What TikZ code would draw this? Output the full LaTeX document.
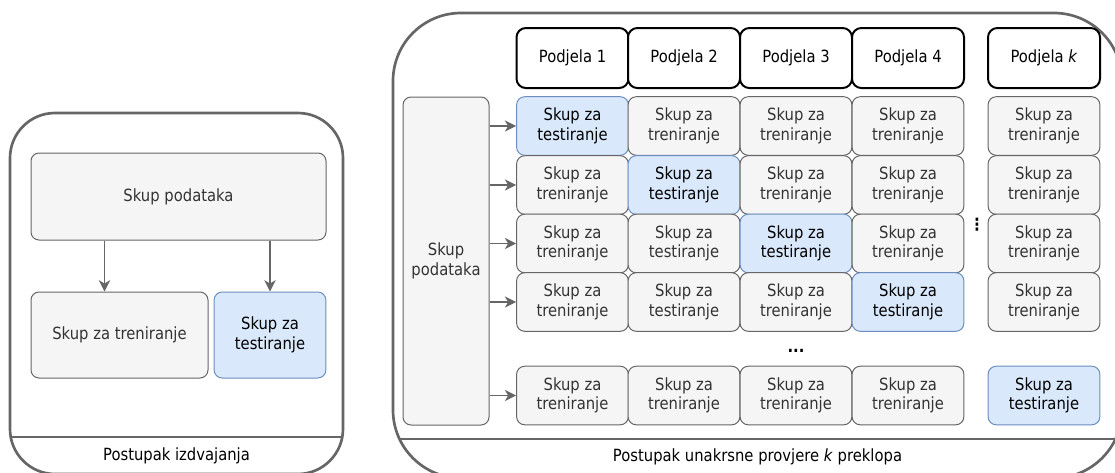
\documentclass[tikz,border=0pt]{standalone}
\usepackage{fontspec}
\setmainfont{DejaVu Sans}[FakeStretch=0.88]
\usepackage{tikz}
\usetikzlibrary{arrows.meta,calc}
\definecolor{boxgray}{HTML}{F5F5F5}
\definecolor{linegray}{HTML}{666666}
\definecolor{txtgray}{HTML}{333333}
\definecolor{bluefill}{HTML}{DAE8FC}
\definecolor{blueline}{HTML}{6C8EBF}

\begin{document}
\begin{tikzpicture}[x=0.75pt,y=-0.75pt,>={Stealth[length=8.5pt,width=8.5pt,inset=2.5pt]},
      font=\fontsize{12.6}{14.5}\selectfont,
      cell/.style={draw=linegray,fill=boxgray,text=txtgray,line width=0.75pt,
        rounded corners=6pt,align=center,inner sep=0pt,
        minimum width=83.8pt,minimum height=43.9pt},
      test/.style={cell,draw=blueline,fill=bluefill,text=black},
      head/.style={draw=black,fill=white,line width=1.5pt,rounded corners=7pt,
        inner sep=0pt,minimum width=84pt,minimum height=45pt},
      panel/.style={draw=linegray,line width=2pt},
      arr/.style={->,draw=linegray,line width=0.9pt}]
      \useasboundingbox (0,0) rectangle (1115,472);
      \clip (0,0) rectangle (1115,472);

      % left panel
      \draw[panel,rounded corners=33.75pt] (10,113) rectangle (343,474);
      \draw[panel] (11,437) -- (342,437);
      \node[text=black] (lname) at (176.5,456) {Postupak izdvajanja};

      \node[cell,minimum width=221.25pt,minimum height=65.25pt] (ldata) at (178.5,196.5) {Skup podataka};
      \node[cell,minimum width=132.75pt,minimum height=64.5pt] (ltrain) at (119.5,335) {Skup za treniranje};
      \node[test,minimum height=64.5pt] (ltest) at (270,335) {Skup za\\testiranje};

      \coordinate (la) at ($(ldata.south west)!0.25!(ldata.south east)$);
      \draw[arr] (la) -- (la |- ltrain.north);
      \draw[arr] (ltest.north |- ldata.south) -- (ltest.north);

      % right panel
      \draw[panel,rounded corners=51pt] (393,13) rectangle (1122,478);
      \draw[panel] (399.5,439) -- (1122,439);
      \node[text=black] (rname) at (757.5,457) {Postupak unakrsne provjere \textit{k} preklopa};

      \node[cell,minimum width=64.5pt,minimum height=246pt] (rdata) at (446,261) {Skup\\podataka};

      \node[head] (h1) at (572.5,58) {Podjela 1};
      \node[head] (h2) at (684,58) {Podjela 2};
      \node[head] (h3) at (796,58) {Podjela 3};
      \node[head] (h4) at (908,58) {Podjela 4};
      \node[head] (hk) at (1044,58) {Podjela \textit{k}};

      % row 1
      \node[test] (c11) at (572.5,126) {Skup za\\testiranje};
      \node[cell] (c12) at (684,126) {Skup za\\treniranje};
      \node[cell] (c13) at (796,126) {Skup za\\treniranje};
      \node[cell] (c14) at (908,126) {Skup za\\treniranje};
      \node[cell] (c1k) at (1044,126) {Skup za\\treniranje};

      % row 2
      \node[cell] (c21) at (572.5,185) {Skup za\\treniranje};
      \node[test] (c22) at (684,185) {Skup za\\testiranje};
      \node[cell] (c23) at (796,185) {Skup za\\treniranje};
      \node[cell] (c24) at (908,185) {Skup za\\treniranje};
      \node[cell] (c2k) at (1044,185) {Skup za\\treniranje};

      % row 3
      \node[cell] (c31) at (572.5,243.5) {Skup za\\treniranje};
      \node[cell] (c32) at (684,243.5) {Skup za\\testiranje};
      \node[test] (c33) at (796,243.5) {Skup za\\testiranje};
      \node[cell] (c34) at (908,243.5) {Skup za\\treniranje};
      \node[cell] (c3k) at (1044,243.5) {Skup za\\treniranje};

      % row 4
      \node[cell] (c41) at (572.5,302) {Skup za\\treniranje};
      \node[cell] (c42) at (684,302) {Skup za\\testiranje};
      \node[cell] (c43) at (796,302) {Skup za\\treniranje};
      \node[test] (c44) at (908,302) {Skup za\\testiranje};
      \node[cell] (c4k) at (1044,302) {Skup za\\treniranje};

      % row k
      \node[cell] (c51) at (572.5,395.5) {Skup za\\treniranje};
      \node[cell] (c52) at (684,395.5) {Skup za\\treniranje};
      \node[cell] (c53) at (796,395.5) {Skup za\\treniranje};
      \node[cell] (c54) at (908,395.5) {Skup za\\treniranje};
      \node[test] (c5k) at (1044,395.5) {Skup za\\testiranje};

      \node (hdots) at (796,351) {\bfseries ...};
      \node (vdots) at (977,225) {\bfseries ⋮};

      \draw[arr] (rdata.east |- c11) -- (c11.west);
      \draw[arr] (rdata.east |- c21) -- (c21.west);
      \draw[arr] (rdata.east |- c31) -- (c31.west);
      \draw[arr] (rdata.east |- c41) -- (c41.west);
      \draw[arr] (rdata.east |- c51) -- (c51.west);
\end{tikzpicture}
\end{document}
